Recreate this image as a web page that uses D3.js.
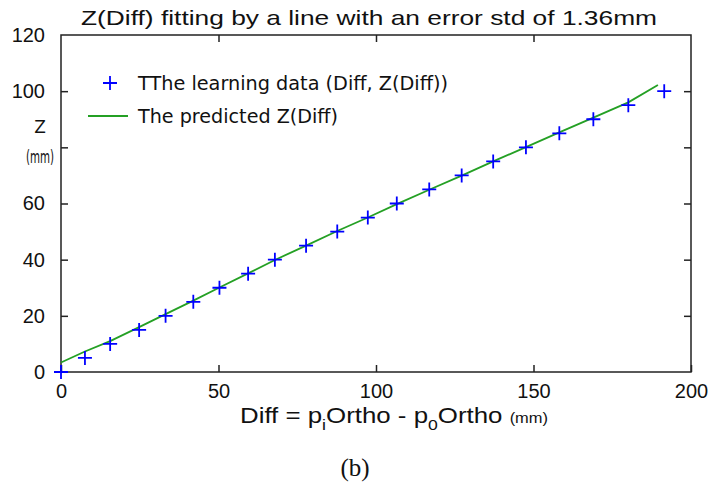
<!DOCTYPE html>
<html>
<head>
<meta charset="utf-8">
<script src="https://cdn.jsdelivr.net/npm/d3@7"></script>
<style>
  html, body { margin: 0; padding: 0; background: #fff; }
  svg { display: block; }
</style>
</head>
<body>
<svg id="chart" width="710" height="491"></svg>
<script>
// ---- data ----
const diffs = [0, 7.6, 15.6, 24.8, 33.2, 42, 50.3, 59.4, 67.9, 77.8, 87.7, 97.4, 106.6, 116.9, 127.2, 137.2, 147.6, 158.2, 169, 180.1, 191.5];
const zValues = [0, 5, 10, 15, 20, 25, 30, 35, 40, 45, 50, 55, 60, 65, 70, 75, 80, 85, 90, 95, 100];
const predX = [0, 7.6, 15.6, 24.8, 33.2, 42, 50.3, 59.4, 67.9, 77.8, 87.7, 97.4, 106.6, 116.9, 127.2, 137.2, 147.6, 158.2, 169, 180.1, 189.5];
const predZ = [3.4, 7.3, 11.0, 16.0, 20.6, 25.4, 30.1, 35.1, 39.9, 45.0, 50.2, 55.0, 59.8, 64.9, 69.9, 75.0, 80.1, 85.3, 90.6, 96.0, 102.2];
const xTicks = [0, 50, 100, 150, 200];
const yTicks = [0, 20, 40, 60, 80, 100, 120];
const yTickLabels = ["0", "20", "40", "60", "", "100", "120"];
const titleText = "Z(Diff) fitting by a line with an error std of 1.36mm";
const legendLabels = ["TThe learning data (Diff, Z(Diff))", "The predicted Z(Diff)"];

// ---- layout ----
const L = 61, R = 691, T = 35, B = 372;
const svg = d3.select("#chart");
const x = d3.scaleLinear().domain([0, 200]).range([L, R]);
const y = d3.scaleLinear().domain([0, 120]).range([B, T]);
const axisColor = "#222";
const sans = "'Liberation Sans', Arial, Helvetica, sans-serif";

// frame
svg.append("rect").attr("x", L).attr("y", T).attr("width", R - L).attr("height", B - T)
  .attr("fill", "none").attr("stroke", axisColor).attr("stroke-width", 1.5);

function styleAxis(g, showText) {
  g.select(".domain").remove();
  g.selectAll(".tick line").attr("stroke", axisColor).attr("stroke-width", 1.5);
  g.selectAll(".tick text").attr("fill", "#111").style("font-family", sans).style("font-size", "20px");
  if (!showText) g.selectAll(".tick text").remove();
}

const ax = svg.append("g").attr("transform", `translate(0,${B})`)
  .call(d3.axisBottom(x).tickValues(xTicks).tickSize(-7).tickPadding(12).tickFormat(d3.format("d")));
styleAxis(ax, true);
ax.selectAll(".tick text").attr("dy", "0.71em");

const axT = svg.append("g").attr("transform", `translate(0,${T})`)
  .call(d3.axisTop(x).tickValues(xTicks.slice(1, -1)).tickSize(-7));
styleAxis(axT, false);

const ay = svg.append("g").attr("transform", `translate(${L},0)`)
  .call(d3.axisLeft(y).tickValues(yTicks).tickSize(-7).tickPadding(16)
    .tickFormat((d, i) => yTickLabels[i]));
styleAxis(ay, true);
ay.selectAll(".tick").filter(d => d === 0 || d === 120).select("line").remove();

const ayR = svg.append("g").attr("transform", `translate(${R},0)`)
  .call(d3.axisRight(y).tickValues(yTicks.slice(1, -1)).tickSize(-7));
styleAxis(ayR, false);

// predicted line
const lineGen = d3.line().x((d, i) => x(predX[i])).y(d => y(d));
svg.append("path").datum(predZ).attr("d", lineGen)
  .attr("fill", "none").attr("stroke", "#24a024").attr("stroke-width", 1.8);

// markers
const plus = "M-7,0H7M0,-7V7";
svg.append("g").selectAll("path").data(zValues).join("path")
  .attr("transform", (d, i) => `translate(${x(diffs[i])},${y(d)})`)
  .attr("d", plus).attr("stroke", "#0000ff").attr("stroke-width", 1.8).attr("fill", "none");

// title
svg.append("text").attr("x", 369).attr("y", 25).attr("text-anchor", "middle")
  .style("font-family", sans).style("font-size", "21px").attr("fill", "#111")
  .attr("textLength", 576).attr("lengthAdjust", "spacingAndGlyphs")
  .text(titleText);

// legend
const legFont = "'DejaVu Sans', Verdana, sans-serif";
const lg = svg.append("g");
lg.append("path").attr("transform", "translate(110,83)").attr("d", plus)
  .attr("stroke", "#0000ff").attr("stroke-width", 1.8);
lg.append("text").attr("x", 138).attr("y", 90).style("font-family", legFont).style("font-size", "19px")
  .attr("fill", "#111").attr("textLength", 310).attr("lengthAdjust", "spacingAndGlyphs").text(legendLabels[0]);
lg.append("line").attr("x1", 88).attr("x2", 128).attr("y1", 116).attr("y2", 116)
  .attr("stroke", "#24a024").attr("stroke-width", 1.8);
lg.append("text").attr("x", 138).attr("y", 123).style("font-family", legFont).style("font-size", "19px")
  .attr("fill", "#111").attr("textLength", 200).attr("lengthAdjust", "spacingAndGlyphs").text(legendLabels[1]);

// y axis label
svg.append("text").attr("x", 40).attr("y", 133).attr("text-anchor", "middle")
  .style("font-family", legFont).style("font-size", "17px").attr("fill", "#111").text("Z");
svg.append("text").attr("x", 40).attr("y", 163).attr("text-anchor", "middle")
  .style("font-family", legFont).style("font-size", "17px").attr("fill", "#111")
  .attr("textLength", 28).attr("lengthAdjust", "spacingAndGlyphs").text("(mm)");

// x axis label
const xl = svg.append("text").attr("x", 394).attr("y", 423).attr("text-anchor", "middle")
  .style("font-family", sans).style("font-size", "22px").attr("fill", "#111")
  .attr("textLength", 308).attr("lengthAdjust", "spacingAndGlyphs");
xl.append("tspan").text("Diff = p");
xl.append("tspan").attr("dy", 7).style("font-size", "15px").text("i");
xl.append("tspan").attr("dy", -7).text("Ortho - p");
xl.append("tspan").attr("dy", 7).style("font-size", "15px").text("0");
xl.append("tspan").attr("dy", -7).text("Ortho ");
xl.append("tspan").style("font-size", "14px").text("(mm)");

// caption
svg.append("text").attr("x", 355).attr("y", 476).attr("text-anchor", "middle")
  .style("font-family", "'Liberation Serif', 'DejaVu Serif', serif").style("font-size", "25px")
  .attr("fill", "#111").text("(b)");
</script>
</body>
</html>
